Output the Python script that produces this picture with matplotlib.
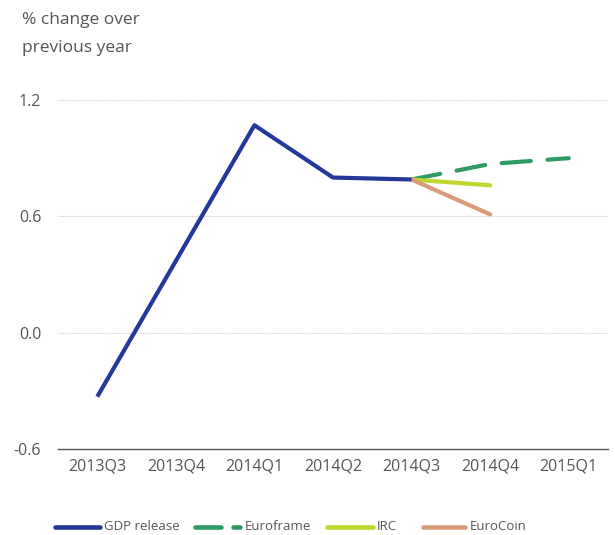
import matplotlib
matplotlib.use("Agg")
import matplotlib.pyplot as plt
from matplotlib.lines import Line2D
import numpy as np

categories = ["2013Q3", "2013Q4", "2014Q1", "2014Q2", "2014Q3", "2014Q4", "2015Q1"]
gdp_release = [-0.33, 0.37, 1.07, 0.80, 0.79, None, None]
euroframe = [None, None, None, None, 0.79, 0.87, 0.90]
irc = [None, None, None, None, 0.79, 0.76, None]
eurocoin = [None, None, None, None, 0.79, 0.61, None]
yticks = [-0.6, 0.0, 0.6, 1.2]

plt.rcParams['font.family'] = ['Open Sans', 'DejaVu Sans']

fig = plt.figure(figsize=(6.15, 5.35), dpi=100)
ax = fig.add_axes([58/615, 1-449/535, 550/615, 349/535])

def arr(v):
    return np.array([np.nan if x is None else x for x in v], dtype=float)

colors = {"GDP release": "#22399a", "Euroframe": "#2e9a64", "IRC": "#c0d62e", "EuroCoin": "#d99a7a"}
x = np.arange(len(categories))
lw = 3.0
ax.plot(x, arr(gdp_release), color=colors["GDP release"], lw=lw, solid_capstyle='butt', zorder=5)
ax.plot(x, arr(euroframe), color=colors["Euroframe"], lw=lw, dashes=(7, 4), dash_capstyle='round', zorder=3)
ax.plot(x, arr(irc), color=colors["IRC"], lw=lw, solid_capstyle='round', zorder=3)
ax.plot(x, arr(eurocoin), color=colors["EuroCoin"], lw=lw, solid_capstyle='round', zorder=4)

ax.set_xlim(-0.5, 6.5)
ax.set_ylim(-0.6, 1.2)
ax.set_yticks(yticks)
ax.set_yticklabels([f"{v:.1f}" for v in yticks])
ax.set_xticks(x)
ax.set_xticklabels(categories)
ax.tick_params(axis='both', length=0, labelsize=11.5, colors="#555555")
ax.tick_params(axis='y', pad=12)
ax.tick_params(axis='x', pad=7)
for s in ["top", "right", "left"]:
    ax.spines[s].set_visible(False)
ax.spines["bottom"].set_color("#555555")
ax.spines["bottom"].set_linewidth(1.0)
for v in yticks[1:]:
    ax.axhline(v, color="#cccccc", lw=0.8, ls=(0, (1, 1)), zorder=1)

fig.text(22/615, 1-34/535, "% change over\nprevious year", fontsize=12.5, color="#555555",
         va="center", ha="left", linespacing=2.0)

# manual legend
W, H = 615, 535
ly = 1 - 527/H
leg_items = [
    ("GDP release", [(55, 100)], 104),
    ("Euroframe", [(195, 221), (233, 240)], 245),
    ("IRC", [(327, 373)], 377),
    ("EuroCoin", [(423, 465)], 470),
]
for label, segs, tx in leg_items:
    for a, b in segs:
        fig.add_artist(Line2D([a/W, b/W], [ly, ly], color=colors[label], lw=3.3,
                              solid_capstyle='round', transform=fig.transFigure))
    fig.text(tx/W, ly, label, fontsize=9.5, color="#555555", va="center", ha="left")

fig.savefig("out.png", dpi=100)
